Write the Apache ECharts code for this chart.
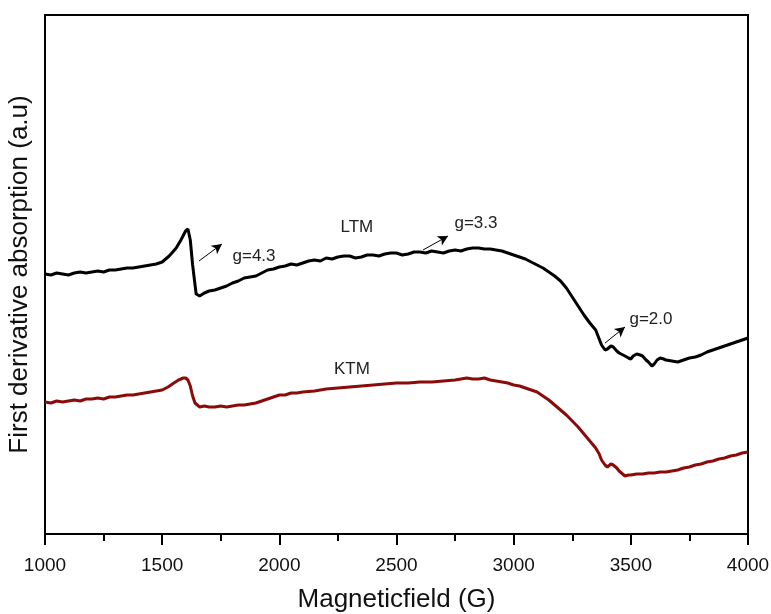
<!DOCTYPE html>
<html><head><meta charset="utf-8">
<script src="https://cdn.jsdelivr.net/npm/echarts@6/dist/echarts.min.js"></script>
<style>html,body{margin:0;padding:0;background:#fff}#c{width:771px;height:614px}</style>
</head><body><div id="c"></div>
<script>
// [field (G), signal (arbitrary units)]
const ltmData = [[1000,260],[1025,259],[1050,261],[1075,260],[1100,259],[1125,261],[1150,262],[1175,261],[1200,262],[1225,263],[1250,262],[1275,264],[1300,264],[1325,265],[1350,266],[1375,266],[1400,267],[1425,268],[1450,269],[1475,270],[1500,272],[1530,278],[1560,286],[1580,294],[1600,303],[1610,305],[1620,294],[1630,269],[1645,240],[1660,238],[1680,241],[1700,243],[1725,244],[1750,246],[1775,248],[1800,251],[1825,253],[1850,256],[1875,257],[1900,258],[1925,261],[1950,264],[1975,265],[2000,267],[2025,268],[2050,270],[2075,269],[2100,271],[2125,273],[2150,274],[2175,273],[2200,276],[2225,275],[2250,277],[2275,278],[2300,278],[2325,276],[2350,277],[2375,279],[2400,279],[2425,278],[2450,280],[2475,281],[2500,281],[2525,279],[2550,280],[2575,282],[2600,282],[2625,281],[2650,283],[2675,282],[2700,281],[2725,283],[2750,284],[2775,283],[2800,285],[2825,286],[2850,286],[2875,285],[2900,285],[2925,284],[2950,283],[2975,281],[3000,279],[3025,277],[3050,275],[3075,272],[3100,269],[3125,266],[3150,262],[3175,258],[3200,253],[3225,246],[3250,237],[3275,228],[3300,219],[3325,211],[3350,204],[3365,195],[3375,189],[3390,184],[3400,185],[3415,188],[3425,187],[3440,183],[3450,181],[3475,178],[3490,176],[3500,175],[3510,178],[3525,180],[3540,179],[3550,178],[3565,174],[3575,172],[3590,168],[3600,170],[3612,174],[3625,176],[3640,175],[3650,174],[3675,173],[3700,172],[3725,174],[3750,176],[3775,177],[3800,179],[3825,182],[3850,184],[3875,186],[3900,188],[3925,190],[3950,192],[3975,194],[4000,196]];
const ktmData = [[1000,132],[1025,131],[1050,133],[1075,132],[1100,133],[1125,134],[1150,133],[1175,135],[1200,135],[1225,136],[1250,135],[1275,137],[1300,137],[1325,138],[1350,139],[1375,139],[1400,140],[1425,141],[1450,142],[1475,143],[1500,144],[1525,147],[1550,151],[1570,154],[1590,156],[1600,156],[1610,154],[1620,148],[1630,138],[1640,131],[1660,127],[1680,128],[1700,127],[1725,127],[1750,128],[1775,127],[1800,128],[1825,129],[1850,129],[1875,130],[1900,131],[1925,133],[1950,135],[1975,137],[2000,139],[2025,139],[2050,141],[2075,141],[2100,142],[2150,143],[2200,145],[2250,146],[2300,147],[2350,148],[2400,149],[2450,150],[2500,151],[2550,151],[2600,152],[2650,152],[2700,153],[2750,154],[2800,156],[2825,155],[2850,155],[2875,156],[2900,154],[2925,153],[2950,152],[2975,151],[3000,149],[3025,148],[3050,146],[3075,144],[3100,142],[3125,138],[3150,134],[3175,129],[3200,124],[3225,119],[3250,113],[3275,107],[3300,100],[3325,93],[3350,86],[3365,80],[3375,74],[3390,69],[3400,67],[3415,70],[3425,69],[3440,66],[3450,63],[3465,60],[3475,58],[3490,59],[3500,59],[3525,60],[3550,60],[3575,61],[3600,61],[3625,62],[3650,62],[3675,63],[3700,64],[3725,66],[3750,67],[3775,69],[3800,70],[3825,72],[3850,73],[3875,75],[3900,76],[3925,78],[3950,79],[3975,81],[4000,82]];
const xTicks = [1000,1500,2000,2500,3000,3500,4000];
const labels = [
  {text:'LTM', x:2331, y:307},
  {text:'g=4.3', x:1892, y:278},
  {text:'g=3.3', x:2839, y:311},
  {text:'g=2.0', x:3586, y:215},
  {text:'KTM', x:2310, y:165}
];
const arrows = [
  [[1657,273],[1755,290]],
  [[2613,284],[2720,298]],
  [[3390,191],[3475,207]]
];

const chart = echarts.init(document.getElementById('c'), null, {renderer:'canvas'});
chart.setOption({
  animation:false,
  grid:{left:45,right:23,top:15,bottom:80,show:true,borderColor:'#000',borderWidth:2,
    containLabel:false,outerBoundsMode:'none'},
  xAxis:{type:'value',min:xTicks[0],max:xTicks[xTicks.length-1],interval:500,
    name:'Magneticfield (G)',nameLocation:'middle',nameGap:53,
    nameTextStyle:{fontFamily:'Liberation Sans, Arial',fontSize:26,color:'#111'},
    axisLine:{lineStyle:{color:'#000',width:2}},
    axisTick:{show:true,inside:false,length:11,lineStyle:{color:'#000',width:2}},
    minorTick:{show:true,splitNumber:2,length:7,lineStyle:{color:'#000',width:2}},
    axisLabel:{fontFamily:'Liberation Sans, Arial',fontSize:19,color:'#111',margin:22,
      formatter:v=>String(v)},
    splitLine:{show:false}},
  yAxis:{type:'value',min:0,max:519,
    name:'First derivative absorption (a.u)',nameLocation:'middle',nameGap:12,
    nameTextStyle:{fontFamily:'Liberation Sans, Arial',fontSize:26,color:'#111'},
    axisLine:{show:true,lineStyle:{color:'#000',width:2}},
    axisTick:{show:false},axisLabel:{show:false},splitLine:{show:false}},
  series:[
    {type:'line',name:'LTM',data:ltmData,showSymbol:false,smooth:false,
     lineStyle:{color:'#000',width:3},
     markPoint:{symbol:'circle',symbolSize:0,silent:true,
       label:{show:true,position:'inside',color:'#222',fontFamily:'Liberation Sans, Arial',fontSize:17,
         formatter:p=>p.name},
       data:labels.map(l=>({name:l.text,coord:[l.x,l.y]}))},
     markLine:{silent:true,symbol:['none','arrow'],symbolSize:[8,10],label:{show:false},
       lineStyle:{color:'#000',width:1,type:'solid'},
       data:arrows.map(a=>[{coord:a[0]},{coord:a[1]}])}},
    {type:'line',name:'KTM',data:ktmData,showSymbol:false,smooth:false,
     lineStyle:{color:'#8b0a0a',width:3}}
  ]
});
</script></body></html>
